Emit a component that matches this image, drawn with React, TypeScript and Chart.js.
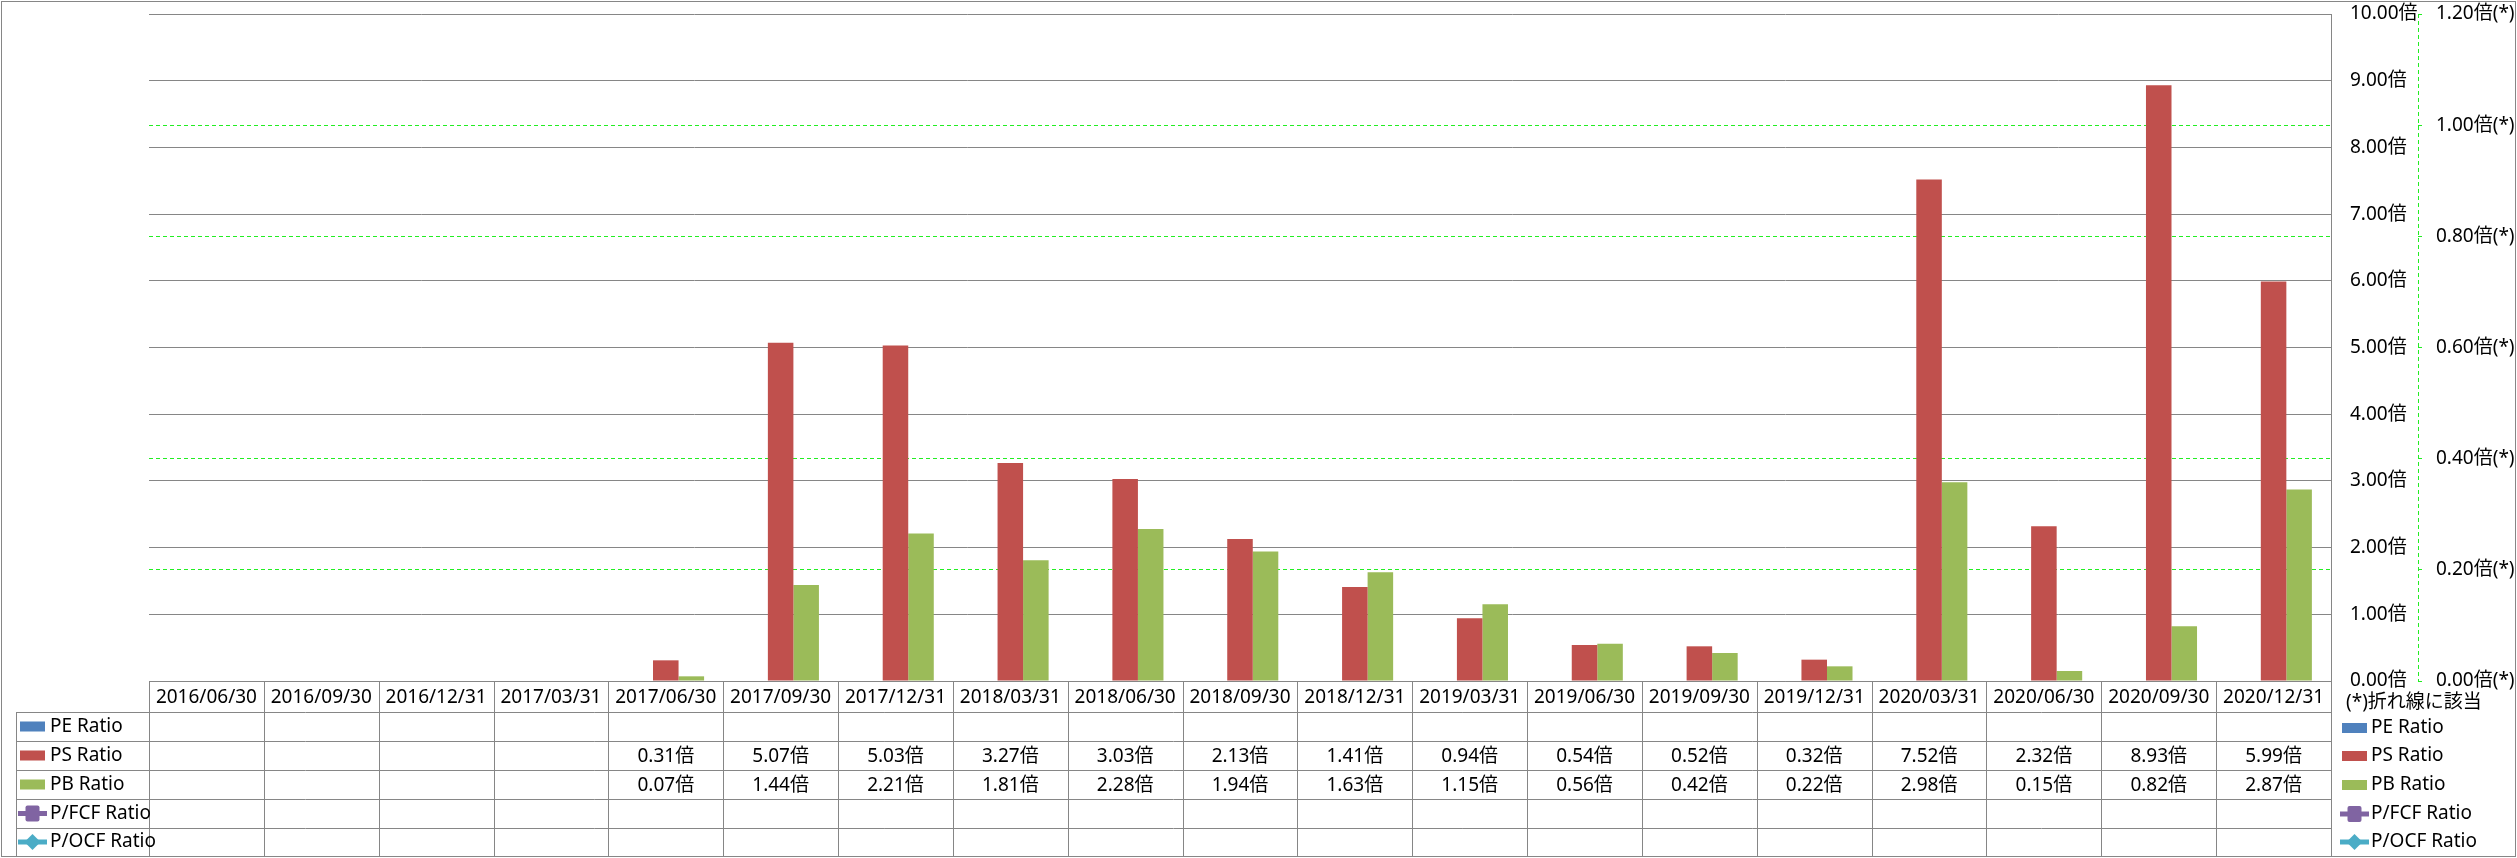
import React, { useEffect, useRef } from 'react';
import { Chart, registerables } from 'chart.js';

Chart.register(...registerables);

const categories = [
  '2016/06/30', '2016/09/30', '2016/12/31', '2017/03/31', '2017/06/30',
  '2017/09/30', '2017/12/31', '2018/03/31', '2018/06/30', '2018/09/30',
  '2018/12/31', '2019/03/31', '2019/06/30', '2019/09/30', '2019/12/31',
  '2020/03/31', '2020/06/30', '2020/09/30', '2020/12/31',
];

const peRatio: (number | null)[] = [
  null, null, null, null, null, null, null, null, null, null,
  null, null, null, null, null, null, null, null, null,
];
const psRatio: (number | null)[] = [
  null, null, null, null, 0.31, 5.07, 5.03, 3.27, 3.03, 2.13,
  1.41, 0.94, 0.54, 0.52, 0.32, 7.52, 2.32, 8.93, 5.99,
];
const pbRatio: (number | null)[] = [
  null, null, null, null, 0.07, 1.44, 2.21, 1.81, 2.28, 1.94,
  1.63, 1.15, 0.56, 0.42, 0.22, 2.98, 0.15, 0.82, 2.87,
];
const pfcfRatio: (number | null)[] = [
  null, null, null, null, null, null, null, null, null, null,
  null, null, null, null, null, null, null, null, null,
];
const pocfRatio: (number | null)[] = [
  null, null, null, null, null, null, null, null, null, null,
  null, null, null, null, null, null, null, null, null,
];

const seriesNames = ['PE Ratio', 'PS Ratio', 'PB Ratio', 'P/FCF Ratio', 'P/OCF Ratio'];
const seriesColors = ['#4F81BD', '#C0504D', '#9BBB59', '#8064A2', '#4BACC6'];
const leftAxisMax = 10;
const leftAxisStep = 1;
const rightAxisMax = 1.2;
const rightAxisStep = 0.2;
const footnote = '(*)折れ線に該当';

const FONT_FAMILY = '"Noto Sans", "Noto Sans CJK JP", sans-serif';
const FONT_SIZE = 19;
const FONT = `${FONT_SIZE}px ${FONT_FAMILY}`;
const GRID_GRAY = '#868686';
const GREEN = '#22ee22';
const DASH = [4, 3];

function drawMarker(ctx: CanvasRenderingContext2D, kind: number, x: number, cy: number) {
  const color = seriesColors[kind];
  ctx.save();
  if (kind < 3) {
    ctx.fillStyle = color;
    ctx.fillRect(x, cy - 5, 25, 10);
  } else {
    ctx.strokeStyle = color;
    ctx.lineWidth = 5;
    ctx.beginPath();
    ctx.moveTo(x - 2, cy);
    ctx.lineTo(x + 27, cy);
    ctx.stroke();
    ctx.fillStyle = color;
    const mx = x + 12.5;
    if (kind === 3) {
      ctx.beginPath();
      ctx.roundRect(mx - 7, cy - 8, 14, 16, 2);
      ctx.fill();
    } else {
      ctx.beginPath();
      ctx.moveTo(mx, cy - 8);
      ctx.lineTo(mx + 8, cy);
      ctx.lineTo(mx, cy + 8);
      ctx.lineTo(mx - 8, cy);
      ctx.closePath();
      ctx.fill();
    }
  }
  ctx.restore();
}

const tablePlugin = {
  id: 'dataTable',
  afterDraw(chart: any) {
    const ctx: CanvasRenderingContext2D = chart.ctx;
    const xs = chart.scales.x;
    const y2 = chart.scales.y2;
    const area = chart.chartArea;
    const n = categories.length;
    const w = xs.getPixelForValue(1) - xs.getPixelForValue(0);
    const top = Math.round(area.bottom);
    const rowEdges = [top, top + 31, top + 60, top + 89, top + 118, top + 147, top + 175];
    const legendLeft = 16;
    const W = chart.width;
    const H = chart.height;

    ctx.save();
    // secondary axis line (dashed)
    ctx.strokeStyle = GREEN;
    ctx.lineWidth = 1;
    ctx.setLineDash(DASH);
    const ax = Math.round(y2.left) + 0.5;
    ctx.beginPath();
    ctx.moveTo(ax, area.top);
    ctx.lineTo(ax, area.bottom);
    ctx.stroke();
    ctx.setLineDash([]);

    // outer frame
    ctx.strokeStyle = GRID_GRAY;
    ctx.lineWidth = 1;
    ctx.strokeRect(1.5, 1.5, W - 3, H - 3);

    // horizontal table lines
    ctx.beginPath();
    ctx.moveTo(area.left, top + 0.5);
    ctx.lineTo(area.right, top + 0.5);
    for (let r = 1; r < rowEdges.length - 1; r++) {
      ctx.moveTo(legendLeft, rowEdges[r] + 0.5);
      ctx.lineTo(area.right, rowEdges[r] + 0.5);
    }
    // vertical lines
    ctx.moveTo(legendLeft + 0.5, rowEdges[1]);
    ctx.lineTo(legendLeft + 0.5, rowEdges[6]);
    for (let i = 0; i <= n; i++) {
      const x = Math.round(xs.getPixelForValue(0) - w / 2 + i * w) + 0.5;
      ctx.moveTo(x, top);
      ctx.lineTo(x, rowEdges[6]);
    }
    ctx.stroke();

    ctx.font = FONT;
    ctx.fillStyle = '#000';
    ctx.textBaseline = 'middle';
    ctx.textAlign = 'center';
    // header
    for (let i = 0; i < n; i++) {
      const cx = xs.getPixelForValue(i);
      ctx.fillText(categories[i], cx, (rowEdges[0] + rowEdges[1]) / 2 + 1);
    }
    const rows = [peRatio, psRatio, pbRatio, pfcfRatio, pocfRatio];
    rows.forEach((data, r) => {
      const cy = (rowEdges[r + 1] + rowEdges[r + 2]) / 2;
      ctx.textAlign = 'center';
      data.forEach((v, i) => {
        if (v === null || v === undefined) return;
        ctx.fillText(v.toFixed(2) + '倍', xs.getPixelForValue(i), cy + 1);
      });
      drawMarker(ctx, r, 20, cy);
      ctx.textAlign = 'left';
      ctx.fillStyle = '#000';
      ctx.fillText(seriesNames[r], 50, cy);
    });

    // right-side legend
    ctx.textAlign = 'left';
    ctx.fillText(footnote, 2346, 703);
    const legendY = [728, 756, 785, 814, 842];
    seriesNames.forEach((name, r) => {
      drawMarker(ctx, r, 2342, legendY[r]);
      ctx.fillStyle = '#000';
      ctx.fillText(name, 2371, legendY[r]);
    });
    ctx.restore();
  },
};

export default function App() {
  const canvasRef = useRef<HTMLCanvasElement | null>(null);

  useEffect(() => {
    document.body.style.margin = '0';
    const canvas = canvasRef.current;
    if (!canvas) return;
    Chart.defaults.font.family = FONT_FAMILY;
    Chart.defaults.font.size = FONT_SIZE;
    Chart.defaults.color = '#000';

    const hideOverlap = (c: any) => {
      if (!c.tick) return GREEN;
      const leftEquivalent = (c.tick.value / rightAxisMax) * leftAxisMax / leftAxisStep;
      return Math.abs(leftEquivalent - Math.round(leftEquivalent)) < 0.01 ? 'rgba(0,0,0,0)' : GREEN;
    };

    const chart = new Chart(canvas, {
      type: 'bar',
      data: {
        labels: categories,
        datasets: [
          { label: seriesNames[0], data: peRatio, backgroundColor: seriesColors[0], yAxisID: 'y', order: 2 },
          { label: seriesNames[1], data: psRatio, backgroundColor: seriesColors[1], yAxisID: 'y', order: 2 },
          { label: seriesNames[2], data: pbRatio, backgroundColor: seriesColors[2], yAxisID: 'y', order: 2 },
          { type: 'line', label: seriesNames[3], data: pfcfRatio, borderColor: seriesColors[3], backgroundColor: seriesColors[3], yAxisID: 'y2', order: 1 } as any,
          { type: 'line', label: seriesNames[4], data: pocfRatio, borderColor: seriesColors[4], backgroundColor: seriesColors[4], yAxisID: 'y2', order: 1 } as any,
        ],
      },
      options: {
        responsive: false,
        animation: false,
        devicePixelRatio: 1,
        layout: { padding: { left: 149, top: 14, bottom: 177, right: 0 } },
        datasets: {
          bar: { categoryPercentage: 0.667, barPercentage: 1.0, borderWidth: 0 },
        },
        plugins: {
          legend: { display: false },
          tooltip: { enabled: false },
        },
        scales: {
          x: {
            type: 'category',
            display: false,
            offset: true,
          },
          y: {
            position: 'right',
            min: 0,
            max: leftAxisMax,
            ticks: {
              stepSize: leftAxisStep,
              padding: 19,
              crossAlign: 'near',
              font: { size: FONT_SIZE, family: FONT_FAMILY },
              color: '#000',
              callback: (v: any) => Number(v).toFixed(2) + '倍',
            },
            grid: { color: GRID_GRAY, lineWidth: 1, drawTicks: false },
            border: { display: true, color: GRID_GRAY, width: 1 },
            afterFit: (scale: any) => { scale.width = 87; scale.paddingTop = 0; scale.paddingBottom = 0; },
          },
          y2: {
            position: 'right',
            min: 0,
            max: rightAxisMax,
            ticks: {
              stepSize: rightAxisStep,
              padding: 14,
              crossAlign: 'near',
              font: { size: FONT_SIZE, family: FONT_FAMILY },
              color: '#000',
              callback: (v: any) => Number(v).toFixed(2) + '倍(*)',
            },
            grid: {
              drawOnChartArea: true,
              color: hideOverlap,
              tickColor: GREEN,
              tickLength: 4,
              lineWidth: 1,
              tickBorderDash: [],
            },
            border: { display: false, color: GREEN, width: 1, dash: DASH },
            afterFit: (scale: any) => { scale.width = 99; scale.paddingTop = 0; scale.paddingBottom = 0; },
          },
        },
      } as any,
      plugins: [tablePlugin],
    });

    return () => chart.destroy();
  }, []);

  return (
    <div style={{ position: 'absolute', left: 0, top: 0, width: 2517, height: 858 }}>
      <canvas ref={canvasRef} width={2517} height={858} style={{ width: 2517, height: 858, display: 'block' }} />
    </div>
  );
}
